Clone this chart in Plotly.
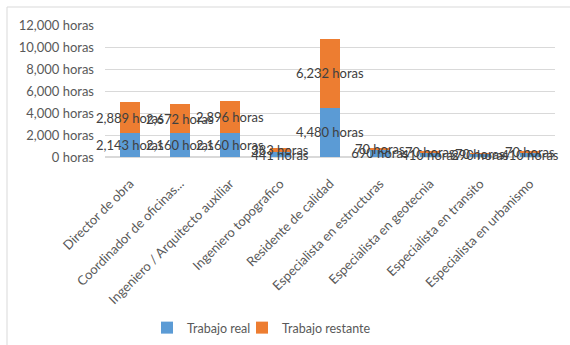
import plotly.graph_objects as go

# Roles and hours per role
roles = [
    "Director de obra",
    "Coordinador de oficinas...",
    "Ingeniero / Arquitecto auxiliar",
    "Ingeniero topografico",
    "Residente de calidad",
    "Especialista en estructuras",
    "Especialista en geotecnia",
    "Especialista en transito",
    "Especialista en urbanismo",
]
trabajo_real = [2143, 2160, 2160, 441, 4480, 690, 410, 290, 410]
trabajo_restante = [2889, 2672, 2896, 383, 6232, 70, 70, 70, 70]
y_ticks = [0, 2000, 4000, 6000, 8000, 10000, 12000]

FONT = "Lato, Carlito, Calibri, sans-serif"
FS = 13
W, H = 570, 345
ML, MR, MT, MB = 105, 15, 25, 188
pw = W - ML - MR
ph = H - MT - MB


def label(v):
    return f"{v:,} horas"


def px_x(x):
    return (x - ML) / pw


def px_y(y):
    return (H - MB - y) / ph


fig = go.Figure()
for name, vals, color, leg in [
    ("Trabajo real", trabajo_real, "#5B9BD5", "legend"),
    ("Trabajo restante", trabajo_restante, "#ED7D31", "legend2"),
]:
    fig.add_trace(go.Bar(
        name=name,
        x=roles,
        y=vals,
        legend=leg,
        marker=dict(color=color, line=dict(width=0)),
        width=0.4,
        text=[label(v) for v in vals],
        textposition="inside",
        insidetextanchor="middle",
        textangle=0,
        constraintext="none",
        cliponaxis=False,
        insidetextfont=dict(family=FONT, size=FS, color="#404040"),
    ))

# light chart frame starting a few pixels in from the top-left corner
fig.add_shape(
    type="rect", xref="paper", yref="paper",
    x0=px_x(7), x1=px_x(W + 5),
    y0=px_y(H + 5), y1=px_y(7),
    line=dict(color="#D9D9D9", width=1), fillcolor="rgba(0,0,0,0)",
    layer="below",
)

legend_style = dict(
    orientation="h",
    xanchor="left",
    y=px_y(313), yanchor="top",
    font=dict(family=FONT, size=12.5, color="#595959"),
    itemwidth=30,
    bgcolor="rgba(0,0,0,0)",
)

fig.update_layout(
    width=W, height=H,
    margin=dict(l=ML, r=MR, t=MT, b=MB, autoexpand=False),
    barmode="stack",
    paper_bgcolor="white",
    plot_bgcolor="white",
    font=dict(family=FONT, size=FS, color="#595959"),
    showlegend=True,
    legend=dict(x=px_x(147), **legend_style),
    legend2=dict(x=px_x(242), **legend_style),
    xaxis=dict(
        tickangle=-45,
        showgrid=False,
        showline=False,
        ticks="outside",
        ticklen=13,
        tickcolor="rgba(0,0,0,0)",
        tickfont=dict(family=FONT, size=FS, color="#595959"),
    ),
    yaxis=dict(
        range=[0, 12000],
        tickvals=y_ticks,
        ticktext=[label(v) for v in y_ticks],
        showgrid=True,
        gridcolor="#D9D9D9",
        gridwidth=1,
        zeroline=True,
        zerolinecolor="#D9D9D9",
        showline=False,
        ticks="",
        ticklabelstandoff=10,
        tickfont=dict(family=FONT, size=FS, color="#595959"),
    ),
)

fig.write_html("out.html")
